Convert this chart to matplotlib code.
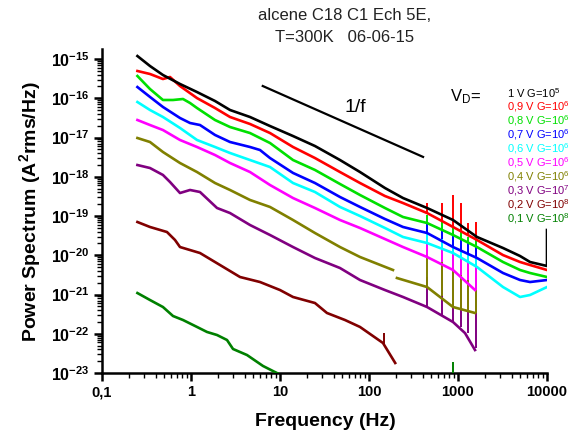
import matplotlib
matplotlib.use("Agg")
import matplotlib.pyplot as plt
from matplotlib.ticker import LogLocator, NullFormatter
import numpy as np

plt.rcParams['font.family'] = ['Liberation Sans', 'DejaVu Sans']
plt.rcParams['mathtext.fontset'] = 'custom'
plt.rcParams['mathtext.rm'] = 'Liberation Sans'
plt.rcParams['mathtext.bf'] = 'Liberation Sans:bold'
plt.rcParams['mathtext.default'] = 'regular'

# ---------------- data ----------------
f_1V = [0.25, 0.346, 0.484, 0.752, 1.168, 1.861, 2.743, 4.60, 7.72, 14.0, 24.7, 47.2,
        79.2, 151, 241, 449, 879, 1634, 3204, 4977, 6445, 10000, 10000]
s_1V = [1.19e-15, 6.63e-16, 3.91e-16, 2.31e-16, 1.44e-16, 8.51e-17, 5.02e-17, 3.33e-17,
        1.96e-17, 1.09e-17, 6.07e-18, 2.67e-18, 1.32e-18, 5.17e-19, 2.87e-19, 1.60e-19,
        7.91e-20, 2.92e-20, 1.53e-20, 9.57e-21, 6.73e-21, 5.32e-21, 4.40e-20]

f_09V = [0.25, 0.346, 0.484, 0.581, 0.752, 1.168, 1.861, 2.743, 4.60, 7.72, 14.0, 24.7,
         47.2, 79.2, 151, 241, 449, 879, 1634, 3204, 4977, 6445, 10000]
s_09V = [4.95e-16, 4.15e-16, 3.09e-16, 3.48e-16, 2.05e-16, 1.01e-16, 5.64e-17, 3.33e-17,
         2.21e-17, 1.30e-17, 5.73e-18, 3.00e-18, 1.32e-18, 6.93e-19, 3.23e-19, 2.14e-19,
         1.19e-19, 5.25e-20, 2.45e-20, 1.01e-20, 6.73e-21, 5.64e-21, 4.21e-21]

f_08V = [0.25, 0.346, 0.484, 0.628, 0.813, 0.975, 1.168, 1.861, 2.743, 4.60, 7.72, 14.0,
         24.7, 47.2, 79.2, 151, 241, 449, 879, 1634, 3204, 4977, 6445, 10000]
s_08V = [3.69e-16, 1.72e-16, 9.03e-17, 9.03e-17, 9.57e-17, 7.57e-17, 5.64e-17, 2.79e-17,
         1.85e-17, 1.30e-17, 7.24e-18, 2.67e-18, 1.49e-18, 6.54e-19, 3.43e-19, 1.60e-19,
         9.43e-20, 6.63e-20, 3.28e-20, 1.62e-20, 6.73e-21, 4.21e-21, 3.53e-21, 2.79e-21]

f_07V = [0.25, 0.346, 0.484, 0.752, 0.975, 1.262, 1.861, 2.743, 4.60, 5.96, 7.72, 14.0,
         24.7, 47.2, 79.2, 151, 241, 449, 879, 1634, 3204, 4977, 6445, 10000]
s_07V = [1.93e-16, 1.08e-16, 5.99e-17, 3.14e-17, 2.34e-17, 2.08e-17, 1.16e-17, 7.68e-18,
         5.73e-18, 4.80e-18, 3.00e-18, 1.25e-18, 6.93e-19, 3.05e-19, 1.70e-19, 8.39e-20,
         5.25e-20, 3.69e-20, 1.62e-20, 8.51e-21, 3.53e-21, 2.34e-21, 2.08e-21, 2.34e-21]

f_06V = [0.25, 0.346, 0.484, 0.752, 1.168, 1.861, 2.743, 4.60, 7.72, 14.0, 24.7, 47.2,
         79.2, 151, 241, 449, 879, 1634, 3204, 4977, 6445, 10000]
s_06V = [8.02e-17, 5.02e-17, 3.33e-17, 1.75e-17, 8.64e-18, 5.73e-18, 4.03e-18, 2.67e-18,
         1.77e-18, 6.93e-19, 4.09e-19, 1.70e-19, 1.00e-19, 4.95e-20, 2.92e-20, 2.05e-20,
         1.14e-20, 5.02e-21, 1.55e-21, 8.64e-22, 9.71e-22, 1.55e-21]

f_05V = [0.25, 0.346, 0.484, 0.752, 1.168, 1.861, 2.743, 4.60, 7.72, 14.0, 24.7, 47.2,
         79.2, 151, 241, 449, 879, 1553]
s_05V = [2.79e-17, 2.08e-17, 1.55e-17, 8.64e-18, 5.73e-18, 3.58e-18, 2.24e-18, 1.32e-18,
         6.16e-19, 2.87e-19, 1.60e-19, 7.91e-20, 4.95e-20, 2.59e-20, 1.62e-20, 9.03e-21,
         4.21e-21, 1.30e-21]

f_04V = [0.25, 0.346, 0.484, 0.752, 1.168, 1.861, 2.743, 4.60, 7.72, 14.0, 24.7, 47.2,
         79.2, 186, np.nan, 206, 449, 879, 1553]
s_04V = [9.71e-18, 7.68e-18, 4.27e-18, 2.24e-18, 1.32e-18, 6.93e-19, 4.60e-19, 2.56e-19,
         1.70e-19, 7.91e-20, 3.69e-20, 1.62e-20, 9.03e-21, 4.21e-21, np.nan, 2.63e-21,
         1.55e-21, 4.80e-22, 3.38e-22]

f_03V = [0.25, 0.346, 0.484, 0.581, 0.752, 0.975, 1.262, 1.96, 2.743, 4.60, 7.72, 14.0,
         24.7, 47.2, 79.2, 151, 241, 449, 879, 1199, 1553]
s_03V = [1.99e-18, 1.67e-18, 1.11e-18, 7.35e-19, 3.85e-19, 4.60e-19, 4.09e-19, 1.60e-19,
         1.19e-19, 5.90e-20, 3.28e-20, 1.62e-20, 8.51e-21, 4.73e-21, 2.34e-21, 1.30e-21,
         8.64e-22, 4.80e-22, 1.99e-22, 1.04e-22, 3.85e-23]

f_02V = [0.25, 0.346, 0.537, 0.661, 0.752, 1.262, 2.118, 3.553, 5.96, 10.0, 14.0, 24.7,
         33.7, 53.7, 79.2, 143.6, 197]
s_02V = [7.03e-20, 5.25e-20, 3.91e-20, 2.45e-20, 1.62e-20, 1.14e-20, 5.64e-21, 2.79e-21,
         2.08e-21, 1.30e-21, 8.64e-22, 6.07e-22, 3.38e-22, 2.24e-22, 1.49e-22, 5.81e-23,
         1.80e-23]

f_01V = [0.25, 0.346, 0.484, 0.628, 0.813, 1.168, 1.513, 1.96, 2.538, 2.965, 4.26, 6.44,
         8.35, 10.26]
s_01V = [1.09e-21, 7.24e-22, 4.80e-22, 2.83e-22, 2.24e-22, 1.49e-22, 1.11e-22, 9.29e-23,
         6.93e-23, 4.09e-23, 2.87e-23, 1.51e-23, 1.12e-23, 8.89e-24]

# spurious peaks (common frequencies)
spike_f = [449, 660, 880, 1080, 1300, 1590]
spk_09V_base = [1.19e-19, 7.46e-20, 5.25e-20, 4.15e-20, 3.48e-20, 2.45e-20]
spk_09V_top = [2.14e-19, 2.14e-19, 3.43e-19, 2.14e-19, 6.63e-20, 7.03e-20]
spk_08V_base = [6.63e-20, 4.67e-20, 3.28e-20, 2.45e-20, 2.05e-20, 1.62e-20]
spk_08V_top = [1.06e-19, 7.03e-20, 4.95e-20, 3.91e-20, 2.92e-20, 2.45e-20]
spk_07V_base = [3.69e-20, 2.59e-20, 1.62e-20, 1.36e-20, 1.14e-20, 8.51e-21]
spk_07V_top = [7.03e-20, 4.40e-20, 3.91e-20, 3.28e-20, 2.45e-20, 1.82e-20]
spk_06V_base = [2.05e-20, 1.44e-20, 1.14e-20, 8.51e-21, 6.73e-21, 5.02e-21]
spk_06V_top = [4.95e-20, 5.90e-20, 2.45e-20, 2.05e-20, 1.36e-20, 1.01e-20]
spk_05V_base = [9.03e-21, 6.73e-21, 4.21e-21, 3.14e-21, 2.34e-21, 1.30e-21]
spk_05V_top = [2.45e-20, 2.45e-20, 1.82e-20, 1.36e-20, 1.01e-20, 6.73e-21]
spk_04V_base = [1.55e-21, 9.16e-22, 4.80e-22, 4.27e-22, 3.80e-22, 3.38e-22]
spk_04V_top = [1.01e-20, 1.36e-20, 1.36e-20, 8.51e-21, 6.73e-21, 4.73e-21]
spk_03V_base = [4.80e-22, 3.00e-22, 1.99e-22, 1.49e-22, 1.04e-22, 4.34e-23]
spk_03V_top = [2.79e-21, 1.53e-20, 1.21e-20, 1.01e-20, 5.64e-21, 2.45e-20]
spk_02V_f = [148]
spk_02V_base = [5.5e-23]
spk_02V_top = [1.04e-22]
spk_01V_f = [880]
spk_01V_base = [8.0e-24]
spk_01V_top = [1.91e-23]

# 1/f guide
guide_f = [6.4, 405]
guide_s = [2.05e-16, 3.2e-18]

labels = ["1 V G=10$^{5}$", "0,9 V G=10$^{6}$", "0,8 V G=10$^{6}$", "0,7 V G=10$^{6}$",
          "0,6 V G=10$^{6}$", "0,5 V G=10$^{6}$", "0,4 V G=10$^{6}$", "0,3 V G=10$^{7}$",
          "0,2 V G=10$^{8}$", "0,1 V G=10$^{8}$"]
colors = ["#000000", "#ff0000", "#00e000", "#0000ff", "#00ffff", "#ff00ff",
          "#808000", "#800080", "#800000", "#008000"]

series = [(f_1V, s_1V, None, None, None),
          (f_09V, s_09V, spike_f, spk_09V_base, spk_09V_top),
          (f_08V, s_08V, spike_f, spk_08V_base, spk_08V_top),
          (f_07V, s_07V, spike_f, spk_07V_base, spk_07V_top),
          (f_06V, s_06V, spike_f, spk_06V_base, spk_06V_top),
          (f_05V, s_05V, spike_f, spk_05V_base, spk_05V_top),
          (f_04V, s_04V, spike_f, spk_04V_base, spk_04V_top),
          (f_03V, s_03V, spike_f, spk_03V_base, spk_03V_top),
          (f_02V, s_02V, spk_02V_f, spk_02V_base, spk_02V_top),
          (f_01V, s_01V, spk_01V_f, spk_01V_base, spk_01V_top)]

# ---------------- figure ----------------
W, H = 586, 437
fig = plt.figure(figsize=(W / 100, H / 100), dpi=100)
ax = fig.add_axes([102 / W, 1 - 373 / H, (547 - 102) / W, (373 - 49) / H])

for i in range(len(series) - 1, -1, -1):
    f, s, sf, sb, st = series[i]
    ax.plot(f, s, color=colors[i], lw=1.9, zorder=3 + (10 - i) * 0.1)
    if sf is not None:
        ax.vlines(sf, sb, st, color=colors[i], lw=1.4, zorder=3 + (10 - i) * 0.1)

ax.plot(guide_f, guide_s, color='black', lw=1.6)
fig.text(355 / W, 1 - 108 / H, "1/f", fontsize=14, ha='center', va='center')

ax.set_xscale('log')
ax.set_yscale('log')
ax.set_xlim(0.1, 10000)
ax.set_ylim(1e-23, 10 ** (-15 + 10 / 39.25))

ax.spines['top'].set_visible(False)
ax.spines['right'].set_visible(False)
for sp in ('left', 'bottom'):
    ax.spines[sp].set_linewidth(1.8)

xt = [0.1, 1, 10, 100, 1000, 10000]
xtl = ["0,1", "1", "10", "100", "1000", "10000"]
ax.set_xticks(xt)
ax.set_xticklabels(xtl, fontsize=10.5, fontweight='bold')
ax.xaxis.set_minor_locator(LogLocator(base=10, subs=np.arange(2, 10), numticks=100))
ax.xaxis.set_minor_formatter(NullFormatter())
yt = [10.0 ** k for k in range(-23, -14)]
ax.set_yticks(yt)
ax.set_yticklabels([r"$\mathbf{10^{%d}}$" % k for k in range(-23, -14)], fontsize=11.5)
ax.yaxis.set_minor_locator(LogLocator(base=10, subs=np.arange(2, 10), numticks=100))
ax.yaxis.set_minor_formatter(NullFormatter())
ax.tick_params(which='major', direction='out', length=6, width=1.8, pad=3)
ax.tick_params(which='minor', direction='out', length=3.5, width=1.0)

fig.text(325 / W, 1 - 422 / H, "Frequency (Hz)", fontsize=14, fontweight='bold',
         ha='center', va='center')
fig.text(30 / W, 1 - 212 / H, r"Power Spectrum (A$^{\mathbf{2}}$rms/Hz)", fontsize=14,
         fontweight='bold', rotation=90, ha='center', va='center')

fig.text(345 / W, 1 - 15 / H, "alcene C18 C1 Ech 5E,", fontsize=12, ha='center',
         va='center', color='#222222')
fig.text(345 / W, 1 - 37 / H, "T=300K   06-06-15", fontsize=12, ha='center',
         va='center', color='#222222')

fig.text(450 / W, 1 - 97 / H, "V$_{D}$=", fontsize=12, ha='left', va='center')
for i, lab in enumerate(labels):
    fig.text(507 / W, 1 - (93 + 14 * i) / H, lab, fontsize=8, color=colors[i],
             ha='left', va='center')

fig.savefig("out.png", dpi=100)
